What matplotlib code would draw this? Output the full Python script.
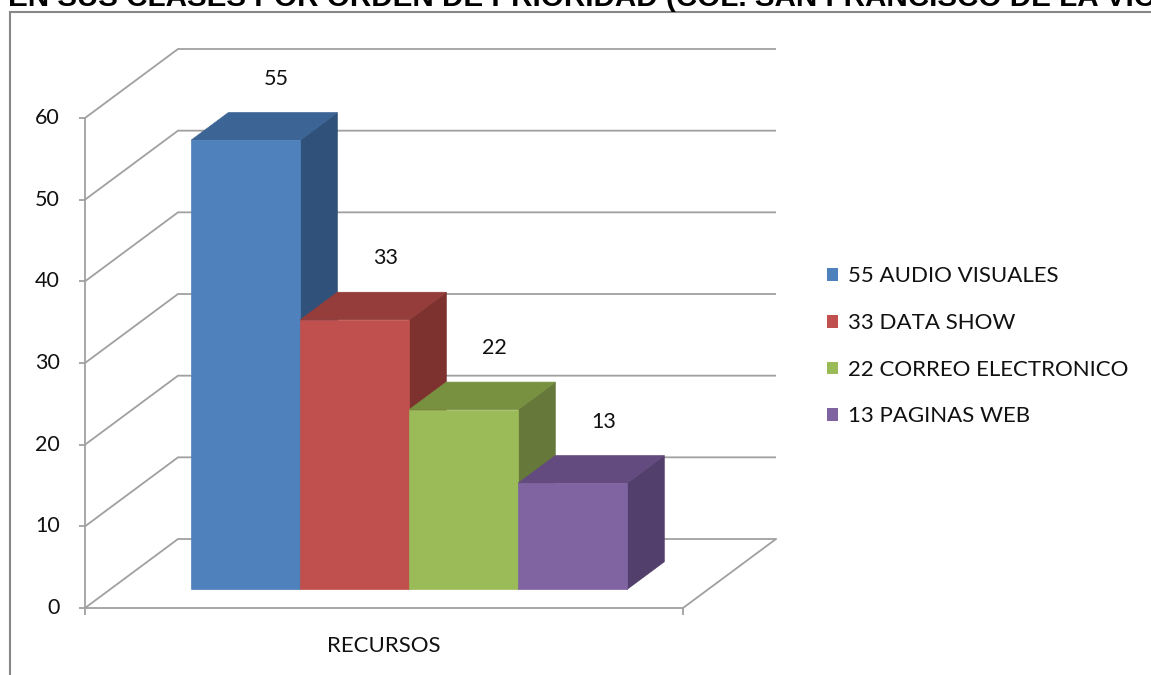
import matplotlib.pyplot as plt
from matplotlib.lines import Line2D
from matplotlib.patches import Patch

# data
series = ['55 AUDIO VISUALES', '33 DATA SHOW', '22 CORREO ELECTRONICO', '13 PAGINAS WEB']
values = [55, 33, 22, 13]
category = 'RECURSOS'
yticks = [0, 10, 20, 30, 40, 50, 60]
title = 'EN SUS CLASES POR ORDEN DE PRIORIDAD (COL. SAN FRANCISCO DE LA VICTORIA)'

front_colors = ['#4F81BD', '#C0504D', '#9BBB59', '#8064A2']
top_colors = ['#3C6494', '#943D3A', '#789141', '#634B7F']
side_colors = ['#30527A', '#7E3230', '#66793A', '#523F6B']

W, H = 1151, 675
FONT = 'Lato'
TXT = '#111111'

fig = plt.figure(figsize=(W / 100, H / 100), dpi=100)
ax = fig.add_axes([0, 0, 1, 1])

# axis scale: front axis 85px..683px is category 0..1, value 0 at y=608px, 60 at y=118px
x0_px, x1_px = 85, 683
ppu = (608 - 118) / 60.0
ax.set_xlim(-x0_px / (x1_px - x0_px), (W - x0_px) / (x1_px - x0_px))
ax.set_ylim(-(H - 608) / ppu, 608 / ppu)
ax.axis('off')

# depth of the 3d box (in data units)
DX = 93 / (x1_px - x0_px)
DV = 69 / ppu


def proj(x, v, d):
    return x + d * DX, v + d * DV


grid = '#A0A0A0'
glw = 1.3
ymax = yticks[-1]

# back wall gridlines + left wall diagonals
for v in yticks:
    xa, va = proj(0, v, 0)
    xb, vb = proj(0, v, 1)
    xc, vc = proj(1, v, 1)
    ax.plot([xa, xb, xc], [va, vb, vc], color=grid, lw=glw, zorder=1,
            solid_capstyle='butt')
# floor right edge + front x axis
xb, vb = proj(1, 0, 1)
ax.plot([1, xb], [0, vb], color=grid, lw=glw, zorder=1)
ax.plot([0, 1], [0, 0], color=grid, lw=glw, zorder=1)
ax.plot([0, 0], [0, ymax], color=grid, lw=glw, zorder=1)
# ticks
ax.plot([0] * len(yticks), yticks, ls='none', marker=0, ms=4.5, mew=glw,
        color=grid, zorder=1)
ax.plot([0, 1], [0, 0], ls='none', marker=3, ms=5, mew=glw, color=grid, zorder=1)

for v in yticks:
    ax.annotate(str(v), (0, v), xytext=(-18, 0), textcoords='offset points',
                ha='right', va='center', fontsize=15.5, family=FONT, color=TXT)
ax.annotate(category, (0.5, 0), xytext=(0, -27), textcoords='offset points',
            ha='center', va='center', fontsize=16, family=FONT, color=TXT)

# bars
n = len(values)
group_w = 0.729
bw = group_w / n
d0, d1 = 0.27, 0.67
start = 0.5 - group_w / 2
for i, v in enumerate(values):
    xl = start + i * bw
    xr = xl + bw
    # side face
    pts = [proj(xr, 0, d0), proj(xr, v, d0), proj(xr, v, d1), proj(xr, 0, d1)]
    ax.fill([p[0] for p in pts], [p[1] for p in pts], color=side_colors[i],
            lw=0.5, zorder=2 + i)
    # top face
    pts = [proj(xl, v, d0), proj(xr, v, d0), proj(xr, v, d1), proj(xl, v, d1)]
    ax.fill([p[0] for p in pts], [p[1] for p in pts], color=top_colors[i],
            lw=0.5, zorder=2 + i)
    # front face
    pts = [proj(xl, 0, d0), proj(xr, 0, d0), proj(xr, v, d0), proj(xl, v, d0)]
    ax.fill([p[0] for p in pts], [p[1] for p in pts], color=front_colors[i],
            lw=0.5, zorder=2 + i)
    # data label
    lx, lv = proj((xl + xr) / 2, v, d0 + 0.33)
    ax.annotate(str(v), (lx, lv), xytext=(0, 28), textcoords='offset points',
                ha='center', va='center', fontsize=15.5, family=FONT, color=TXT)

# legend
handles = [Patch(facecolor=c, edgecolor='none') for c in front_colors]
fig.legend(handles, series, loc='center left',
           bbox_to_anchor=(827 / W, 1 - 346.5 / H), frameon=False,
           prop={'family': FONT, 'size': 16}, labelspacing=1.2,
           handlelength=0.5, handleheight=0.5, handletextpad=0.45,
           borderpad=0, borderaxespad=0, labelcolor=TXT)

# chart border (only top and left visible)
bc = '#878787'
fig.add_artist(Line2D([10 / W, 10 / W], [1 - 12 / H, 0], color=bc, lw=1.5,
                      transform=fig.transFigure))
fig.add_artist(Line2D([10 / W, 1], [1 - 12 / H, 1 - 12 / H], color=bc, lw=1.5,
                      transform=fig.transFigure))

# title, cut off by the top edge
fig.text(8 / W, 1 - 6 / H, title, ha='left', va='baseline', fontsize=21.3,
         fontweight='bold', family='Liberation Sans')

fig.savefig('out.png', dpi=100)
